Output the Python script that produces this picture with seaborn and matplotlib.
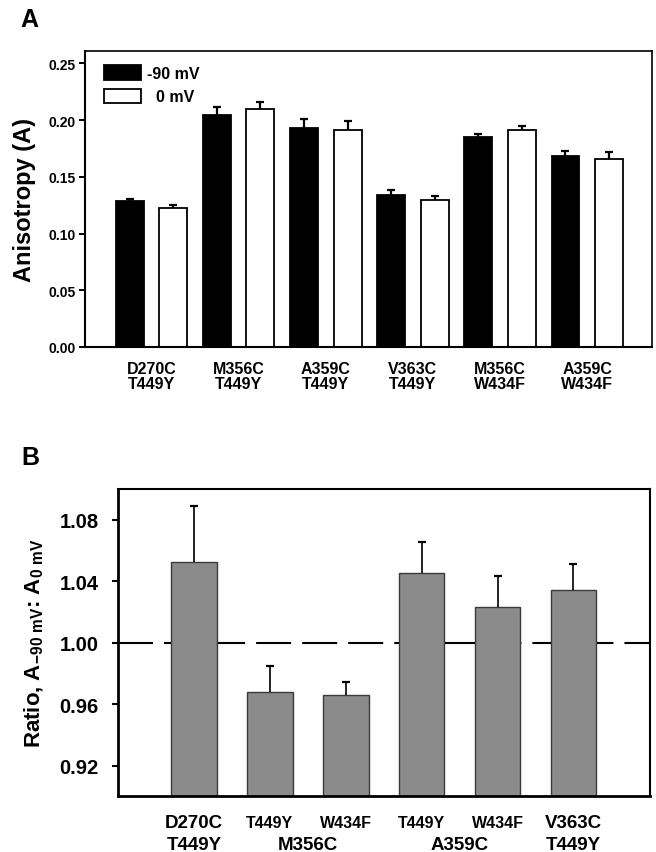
import pandas as pd
import matplotlib
matplotlib.use('Agg')
import matplotlib.pyplot as plt
import seaborn as sns

# panel A: anisotropy at two holding potentials
mutants = ["D270C\nT449Y", "M356C\nT449Y", "A359C\nT449Y",
           "V363C\nT449Y", "M356C\nW434F", "A359C\nW434F"]
conditions = ["-90 mV", "0 mV"]
aniso_m90 = [0.1285, 0.2046, 0.1927, 0.1337, 0.1850, 0.1688]
aniso_m90_err = [0.0022, 0.0073, 0.0080, 0.0047, 0.0027, 0.0039]
aniso_0 = [0.1224, 0.2100, 0.1910, 0.1296, 0.1913, 0.1655]
aniso_0_err = [0.0025, 0.0062, 0.0083, 0.0036, 0.0035, 0.0062]

# panel B: ratio A(-90 mV) / A(0 mV)
ratio_top = ["D270C", "T449Y", "W434F", "T449Y", "W434F", "V363C"]
ratio_bottom = ["T449Y", "M356C", "M356C", "A359C", "A359C", "T449Y"]
ratio = [1.0525, 0.9681, 0.9660, 1.0455, 1.0235, 1.0342]
ratio_err = [0.0362, 0.0168, 0.0083, 0.0202, 0.0200, 0.0173]

sns.set_theme(style="ticks")
plt.rcParams['font.family'] = ['Liberation Sans', 'DejaVu Sans']
plt.rcParams['font.weight'] = 'bold'
plt.rcParams['axes.labelweight'] = 'bold'
plt.rcParams['text.color'] = 'black'
plt.rcParams['axes.labelcolor'] = 'black'
plt.rcParams['xtick.color'] = 'black'
plt.rcParams['ytick.color'] = 'black'
plt.rcParams['mathtext.fontset'] = 'custom'
plt.rcParams['mathtext.rm'] = 'Liberation Sans:bold'
plt.rcParams['mathtext.it'] = 'Liberation Sans:bold'
plt.rcParams['mathtext.bf'] = 'Liberation Sans:bold'

fig = plt.figure(figsize=(6.56, 8.53), dpi=100)
W, H = 656, 853
axA = fig.add_axes([85 / W, 1 - 348 / H, 567 / W, 296 / H])
axB = fig.add_axes([118.3 / W, 1 - 797.3 / H, 531.7 / W, 307.3 / H])


def up_errorbar(ax, xs, ys, errs, **kw):
    # one-sided (upward) error bars, lower cap hidden
    _, caps, _ = ax.errorbar(xs, ys, yerr=[[0] * len(errs), errs], fmt='none',
                             ecolor='black', **kw)
    if len(caps) == 2:
        caps[0].set_visible(False)


# ---- A ----
dfA = pd.DataFrame({
    'mutant': mutants * 2,
    'condition': [conditions[0]] * len(mutants) + [conditions[1]] * len(mutants),
    'value': aniso_m90 + aniso_0,
})
sns.barplot(data=dfA, x='mutant', y='value', hue='condition', order=mutants,
            hue_order=conditions, palette={conditions[0]: 'black', conditions[1]: 'white'},
            edgecolor='black', linewidth=1.3, width=1.0, gap=0.36,
            errorbar=None, ax=axA, zorder=2)
for cont, errs in zip(axA.containers, [aniso_m90_err, aniso_0_err]):
    xs = [b.get_x() + b.get_width() / 2 for b in cont]
    ys = [b.get_height() for b in cont]
    up_errorbar(axA, xs, ys, errs, elinewidth=1.6, capsize=3.0, capthick=1.6, zorder=3)

handles, labels = axA.get_legend_handles_labels()
axA.legend(handles, [lab.rjust(len(conditions[0])) for lab in labels],
           loc='upper left', bbox_to_anchor=(0.0335, 0.952), frameon=False,
           borderpad=0, borderaxespad=0, handlelength=2.3, handleheight=1.0,
           handletextpad=0.42, labelspacing=0.5,
           prop={'size': 11.5, 'weight': 'bold'})

axA.set_xlim(-0.763, 5.743)
axA.set_ylim(0, 0.261)
at = [0, 0.05, 0.10, 0.15, 0.20, 0.25]
axA.set_yticks(at)
axA.set_yticklabels([f"{v:.2f}" for v in at])
axA.set_xlabel("")
axA.set_ylabel("Anisotropy (A)", fontsize=17, fontweight='bold', labelpad=9)
axA.tick_params(axis='y', direction='out', length=4, width=1.4, pad=3, labelsize=10)
axA.tick_params(axis='x', length=0, pad=10, labelsize=11.5)
for t in axA.get_xticklabels():
    t.set_linespacing(1.05)
    t.set_fontweight('bold')
for t in axA.get_yticklabels():
    t.set_fontweight('bold')
for side in ['left', 'bottom']:
    axA.spines[side].set_linewidth(1.5)
for side in ['top', 'right']:
    axA.spines[side].set_linewidth(1.2)
for s in axA.spines.values():
    s.set_color('black')

# ---- B ----
names = [f"{t}/{b}" for t, b in zip(ratio_top, ratio_bottom)]
dfB = pd.DataFrame({'name': names, 'ratio': ratio})
sns.barplot(data=dfB, x='name', y='ratio', order=names, color='#8b8b8b',
            saturation=1, edgecolor='#3a3a3a', linewidth=1.0, width=0.6,
            errorbar=None, ax=axB, zorder=2)
bars = axB.containers[0]
xs = [b.get_x() + b.get_width() / 2 for b in bars]
up_errorbar(axB, xs, ratio, ratio_err, elinewidth=1.2, capsize=2.9, capthick=1.6, zorder=3)
axB.axhline(1.0, color='black', lw=1.5, dashes=(16.8, 5.3), zorder=1)

axB.set_xlim(-1.0, 6.01)
axB.set_ylim(0.90, 1.10)
bt = [0.92, 0.96, 1.00, 1.04, 1.08]
axB.set_yticks(bt)
axB.set_yticklabels([f"{v:.2f}" for v in bt])
axB.set_xticks([])
axB.set_xlabel("")
axB.set_ylabel(r"Ratio, A$_{\mathrm{-90\ mV}}$: A$_{\mathrm{0\ mV}}$",
               fontsize=16, fontweight='bold', labelpad=10)
axB.tick_params(axis='y', direction='out', length=4, width=1.5, pad=10, labelsize=14.5)
for t in axB.get_yticklabels():
    t.set_fontweight('bold')

# group consecutive bars sharing the second-row label
groups = []
for i, lab in enumerate(ratio_bottom):
    if groups and groups[-1][0] == lab:
        groups[-1][1].append(i)
    else:
        groups.append((lab, [i]))
trans = axB.get_xaxis_transform()
for lab, idx in groups:
    gx = sum(xs[i] for i in idx) / len(idx)
    axB.text(gx, -0.171, lab, transform=trans, ha='center', va='baseline',
             fontsize=13.5, fontweight='bold')
    for i in idx:
        axB.text(xs[i], -0.100, ratio_top[i], transform=trans, ha='center',
                 va='baseline', fontsize=13.5 if len(idx) == 1 else 11.5,
                 fontweight='bold')

for side in ['left', 'bottom']:
    axB.spines[side].set_linewidth(2.0)
for side in ['top', 'right']:
    axB.spines[side].set_linewidth(1.5)
for s in axB.spines.values():
    s.set_color('black')

fig.text(20 / W, 1 - 8 / H, "A", fontsize=18, fontweight='bold', va='top', ha='left')
fig.text(21 / W, 1 - 446 / H, "B", fontsize=18, fontweight='bold', va='top', ha='left')

fig.savefig("out.png", dpi=100, facecolor='white')
